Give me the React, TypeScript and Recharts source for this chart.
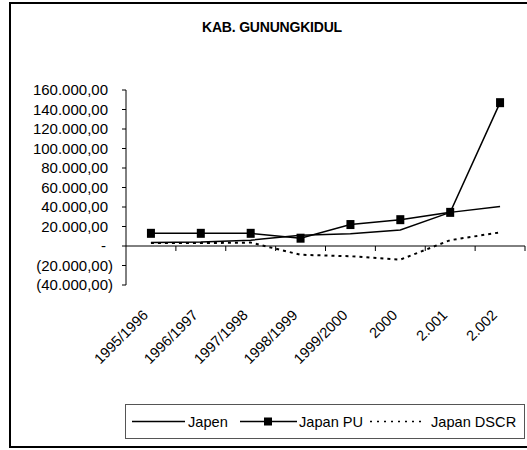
import { LineChart, Line, XAxis, YAxis, ReferenceLine } from 'recharts';

const years = ['1995/1996', '1996/1997', '1997/1998', '1998/1999', '1999/2000', '2000', '2.001', '2.002'];
const japen = [3700, 4000, 6000, 11000, 12500, 16500, 34500, 40500];
const japanPU = [13000, 13000, 13000, 8000, 22000, 27000, 34500, 147000];
const japanDSCR = [3000, 3000, 3500, -9000, -10500, -14000, 6000, 14000];
const yTicks = [-40000, -20000, 0, 20000, 40000, 60000, 80000, 100000, 120000, 140000, 160000];

const FONT = '"Liberation Sans", Arial, sans-serif';

const data = years.map((year, i) => ({
  year,
  japen: japen[i],
  pu: japanPU[i],
  dscr: japanDSCR[i],
}));

function fmtNum(v: number): string {
  if (v === 0) return '-';
  const s = Math.abs(v).toLocaleString('de-DE', { minimumFractionDigits: 2, maximumFractionDigits: 2 });
  return v < 0 ? `(${s})` : s;
}

function YTick(props: any) {
  const { x, y, payload } = props;
  const v = payload.value as number;
  const dx = v < 0 ? 0 : v === 0 ? -7 : -5;
  return (
    <text x={x + dx} y={y} dy="0.36em" textAnchor="end" fontSize={15} fontFamily={FONT} fill="#000">
      {fmtNum(v)}
    </text>
  );
}

function XTick(props: any) {
  const { x, y, payload } = props;
  const ax = x - 2;
  const ay = y + 31;
  return (
    <text
      x={ax}
      y={ay}
      textAnchor="end"
      fontSize={14.6}
      fontFamily={FONT}
      fill="#000"
      transform={`rotate(-45, ${ax}, ${ay})`}
    >
      {payload.value}
    </text>
  );
}

function ZeroLine(props: any) {
  const { x1, y1, x2, y2 } = props;
  const step = (x2 - x1) / years.length;
  return (
    <g>
      <line x1={x1} y1={y1} x2={x2} y2={y2} stroke="#000" strokeWidth={1} />
      {years.map((_, i) => {
        const tx = x1 + step * (i + 1);
        return <line key={i} x1={tx} y1={y1} x2={tx} y2={y1 + 5} stroke="#000" strokeWidth={1} />;
      })}
    </g>
  );
}

function SquareDot(props: any) {
  const { cx, cy, index } = props;
  return <rect key={`sq-${index}`} x={cx - 4} y={cy - 4.5} width={8} height={9} fill="#000" />;
}

function LegendBox() {
  return (
    <div
      style={{
        position: 'absolute',
        left: 125,
        top: 404,
        width: 400,
        height: 35,
        border: '1px solid #555',
        boxSizing: 'border-box',
        background: '#fff',
      }}
    >
      <svg width={398} height={33} style={{ display: 'block' }}>
        <g fontFamily={FONT} fontSize={14.6} fill="#000">
          <line x1={6} y1={16.5} x2={59} y2={16.5} stroke="#000" strokeWidth={1.5} />
          <text x={62} y={16.5} dy="0.36em">Japen</text>
          <line x1={114} y1={16.5} x2={171} y2={16.5} stroke="#000" strokeWidth={1.5} />
          <rect x={138} y={12.5} width={8} height={8} fill="#000" />
          <text x={173} y={16.5} dy="0.36em">Japan PU</text>
          <line x1={244} y1={16.5} x2={298} y2={16.5} stroke="#000" strokeWidth={1.5} strokeDasharray="2 5" />
          <text x={305} y={16.5} dy="0.36em">Japan DSCR</text>
        </g>
      </svg>
    </div>
  );
}

export default function App() {
  return (
    <div
      style={{
        position: 'absolute',
        left: 0,
        top: 0,
        width: 527,
        height: 450,
        overflow: 'hidden',
        background: '#fff',
      }}
    >
      <div
        style={{
          position: 'absolute',
          left: 9,
          top: 2,
          width: 600,
          height: 446,
          border: '2px solid #000',
          boxSizing: 'border-box',
        }}
      />
      <div
        style={{
          position: 'absolute',
          left: 172,
          top: 19,
          width: 200,
          textAlign: 'center',
          fontFamily: FONT,
          fontWeight: 'bold',
          fontSize: 14,
          letterSpacing: -0.2,
          color: '#000',
        }}
      >
        KAB. GUNUNGKIDUL
      </div>
      <div style={{ position: 'absolute', left: 0, top: 0 }}>
        <LineChart width={527} height={450} data={data} margin={{ top: 90, right: 2, bottom: 65, left: 66 }}>
          <XAxis
            dataKey="year"
            scale="band"
            axisLine={false}
            tickLine={false}
            tickSize={0}
            tickMargin={0}
            interval={0}
            height={100}
            tick={<XTick />}
          />
          <YAxis
            type="number"
            domain={[-40000, 160000]}
            ticks={yTicks}
            interval={0}
            width={60}
            axisLine={{ stroke: '#000' }}
            tickLine={{ stroke: '#000' }}
            tickSize={4}
            tickMargin={9}
            tick={<YTick />}
          />
          <ReferenceLine y={0} shape={<ZeroLine />} />
          <Line
            type="linear"
            dataKey="japen"
            stroke="#000"
            strokeWidth={1.5}
            dot={false}
            activeDot={false}
            isAnimationActive={false}
          />
          <Line
            type="linear"
            dataKey="pu"
            stroke="#000"
            strokeWidth={1.5}
            dot={<SquareDot />}
            activeDot={false}
            isAnimationActive={false}
          />
          <Line
            type="linear"
            dataKey="dscr"
            stroke="#000"
            strokeWidth={2}
            strokeDasharray="3 4"
            dot={false}
            activeDot={false}
            isAnimationActive={false}
          />
        </LineChart>
      </div>
      <LegendBox />
    </div>
  );
}
